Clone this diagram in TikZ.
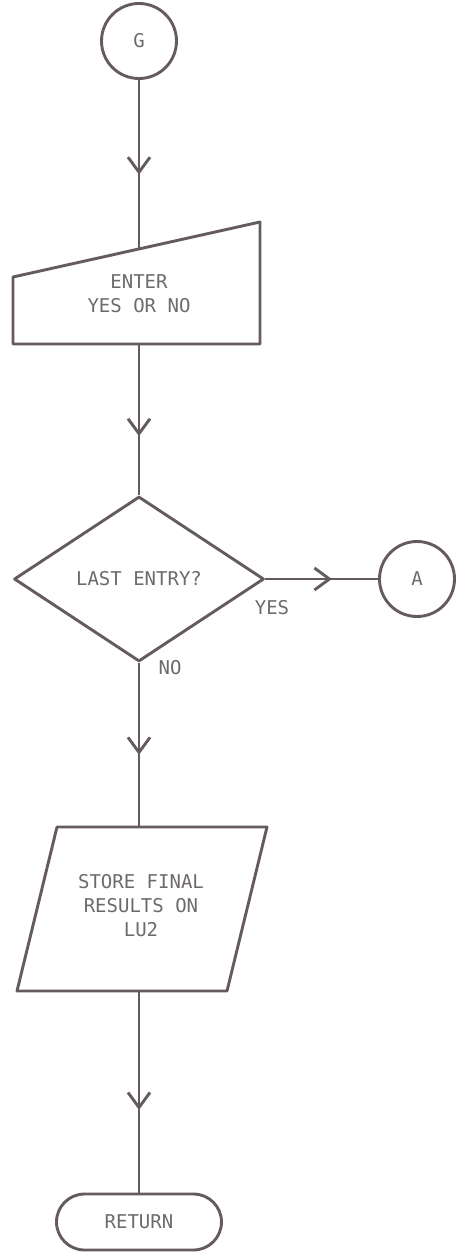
\documentclass[tikz,border=0pt]{standalone}
\usepackage{fontspec}
\setmonofont{DejaVu Sans Mono}
\usetikzlibrary{shapes.geometric,shapes.misc,arrows.meta,decorations.markings}
\definecolor{ink}{RGB}{100,90,95}
\definecolor{txt}{RGB}{110,105,110}
\begin{document}
\begin{tikzpicture}[x=1pt,y=-1pt,
  lbl/.style={font=\ttfamily\fontsize{19}{24}\selectfont, text=txt, align=center},
  shp/.style={draw=ink, line width=2.9pt, line join=round},
  conn/.style={draw=ink, line width=2.9pt, postaction={decorate},
    decoration={markings, mark=at position #1 with {\arrow{Straight Barb[length=15pt,width=22pt,line width=2.9pt]}}}},
  conn/.default=0.58,
  circ/.style={shp, circle, minimum size=75pt, inner sep=0pt, lbl},
  decis/.style={shp, diamond, minimum width=250pt, minimum height=165pt, inner sep=0pt, lbl},
  term/.style={shp, rounded rectangle, minimum width=165pt, minimum height=56pt, inner sep=0pt, lbl},
  plain/.style={lbl, inner sep=0pt}
]
\useasboundingbox (0,0) rectangle (459,1253);

% start connector
\node[circ] (G) at (139,41) {G};

% manual input
\draw[shp] (13,277) -- (260,222) -- (260,344) -- (13,344) -- cycle;
\node[plain] (enter) at (139,294) {ENTER\\YES OR NO};
\coordinate (mtop) at (139,249);
\coordinate (mbot) at (139,344);

% decision
\node[decis] (D) at (139,579) {LAST ENTRY?};
\node[circ] (A) at (417,579) {A};
\node[plain] (yes) at (272,608) {YES};
\node[plain] (no) at (170,668) {NO};

% output parallelogram
\draw[shp] (57,827) -- (267,827) -- (227,991) -- (17,991) -- cycle;
\node[plain] (store) at (141,906) {STORE FINAL\\RESULTS ON\\LU2};
\coordinate (stop) at (139,827);
\coordinate (sbot) at (139,991);

% terminal
\node[term] (R) at (139,1222) {RETURN};

% connectors
\draw[conn=0.56] (G) -- (mtop);
\draw[conn=0.61] (mbot) -- (D.north);
\draw[conn=0.59] (D.east) -- (A.west);
\draw[conn=0.56] (D.south) -- (stop);
\draw[conn=0.59] (sbot) -- (R.north);
\end{tikzpicture}
\end{document}
